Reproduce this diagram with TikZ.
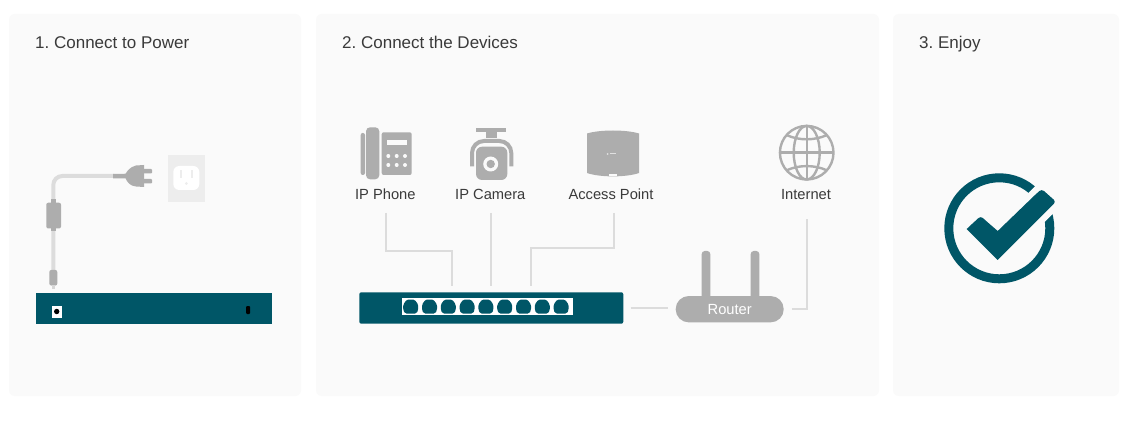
\documentclass[tikz,border=0pt]{standalone}
\usepackage{fontspec}
\setmainfont{Liberation Sans}
\usetikzlibrary{positioning}
\definecolor{tealdark}{HTML}{005667}
\definecolor{panelbg}{HTML}{FAFAFA}
\definecolor{icongray}{HTML}{ADADAD}
\definecolor{wiregray}{HTML}{DCDCDC}
\definecolor{textgray}{HTML}{3A3A3A}
\frenchspacing
\begin{document}
\begin{tikzpicture}[
        x=1pt, y=-1pt,
        panel/.style={rectangle, fill=panelbg, rounded corners=6pt, inner sep=0pt},
        title/.style={anchor=base west, inner sep=0pt, text=textgray, font=\fontsize{17}{20}\selectfont},
        devlabel/.style={anchor=base, inner sep=0pt, text=textgray, font=\fontsize{14.7}{17}\selectfont},
        switchbox/.style={rectangle, fill=tealdark, inner sep=0pt},
        wire/.style={draw=wiregray, line width=2pt},
        cord/.style={draw=wiregray, line width=4pt},
        icon/.style={fill=icongray, draw=none},
    ]
    \useasboundingbox (0,0) rectangle (1137,430);
    \fill[white] (0,0) rectangle (1137,430);

    % Panels
    \node[panel, minimum width=292pt, minimum height=382pt] (power_panel) at (155,205) {};
    \node[panel, minimum width=563pt, minimum height=382pt] (devices_panel) at (597.5,205) {};
    \node[panel, minimum width=226pt, minimum height=382pt] (enjoy_panel) at (1006,205) {};
    \node[title] (power_title) at (35,48.3) {1. Connect to Power};
    \node[title] (devices_title) at (342,48.3) {2. Connect the Devices};
    \node[title] (enjoy_title) at (919,48.3) {3. Enjoy};

    % Power side
    \node[switchbox, minimum width=236.6pt, minimum height=30.7pt] (back_switch) at (154,308.7) {};
    \fill[white] (51.7,306) rectangle (62,317.7);
    \fill[black] (56.7,311.5) circle[radius=2.7pt];
    \fill[black, rounded corners=1pt] (246,306) rectangle (250,314);

    \coordinate (cord_end) at (53.3,270);
    \coordinate (cord_start) at (114,176);
    \draw[cord, rounded corners=9pt] (cord_end) |- (cord_start);
    \fill[icon, rounded corners=2pt] (46.3,202.7) rectangle (61,228.5);
    \fill[icon] (50.7,199.3) rectangle (56,231);
    \fill[icon, rounded corners=2pt] (49.3,270) rectangle (57.3,285.5);
    \fill[icongray!50] (52,285) rectangle (54.5,288.5);

    % Plug
    \fill[icon] (113,174) -- (127,173.7) -- (127,178.5) -- (113,178.3) -- cycle;
    \fill[icon] (144,165) -- (136,165.5) .. controls (130,167) and (127,171) .. (125.5,174) -- (125.5,178) .. controls (127,182) and (130,186) .. (136,186.5) -- (144,187) -- cycle;
    \fill[icon, rounded corners=0.8pt] (143,169) rectangle (152,173.3);
    \fill[icon, rounded corners=0.8pt] (143,179) rectangle (152,183.3);

    % Outlet
    \fill[black!7] (168,154.7) rectangle (204.7,202);
    \fill[white, rounded corners=6pt] (173.3,166) rectangle (199.3,190);
    \fill[black!7] (180,170) rectangle (182,178.3);
    \fill[black!7] (190.7,170) rectangle (192.7,178.3);
    \fill[black!7] (186.3,183.5) circle[radius=1.5pt];

    % Devices: phone
    \fill[icon, rounded corners=2pt] (360.7,133) rectangle (365,175);
    \fill[icon, rounded corners=4pt] (366,127.3) rectangle (379.3,179.3);
    \fill[icon, rounded corners=2pt] (381.7,132.3) rectangle (411.7,175);
    \fill[panelbg] (387.3,140) rectangle (406.7,145.3);
    \foreach \kx in {388.3,396.7,405}
        \foreach \ky in {156,165}
            \fill[panelbg] (\kx,\ky) circle[radius=2pt];
    \node[devlabel] (phone_label) at (385.3,199.5) {IP Phone};

    % Devices: camera
    \fill[icon] (475.7,127.7) rectangle (506.3,131.7);
    \fill[icon] (485.7,131) rectangle (496.7,138.3);
    \draw[icongray, line width=4pt, rounded corners=12pt] (472,166.5) -- (472,141) -- (511.3,141) -- (511.3,166.5);
    \fill[icon, rounded corners=6pt] (476,146.7) rectangle (507.3,180);
    \fill[panelbg] (490.7,164) circle[radius=7.5pt];
    \fill[icon] (490.7,164) circle[radius=4.2pt];
    \node[devlabel] (camera_label) at (490.3,199.5) {IP Camera};

    % Devices: access point
    \fill[icon] (587,133.5) .. controls (600,129.5) and (626,129.5) .. (639,133.5) -- (639,173) .. controls (626,177.5) and (600,177.5) .. (587,173) -- cycle;
    \fill[panelbg] (608.5,174.5) rectangle (617,176.5);
    \fill[black!12] (607.5,154) circle[radius=1pt];
    \fill[black!12] (609.5,153.5) rectangle (616,154.5);
    \node[devlabel] (ap_label) at (611,199.5) {Access Point};

    % Devices: globe
    \begin{scope}[shift={(806.7,152.7)}, icongray, line width=2.4pt]
        \draw (0,0) circle[radius=26.8pt];
        \draw (0,0) ellipse[x radius=13pt, y radius=26.8pt];
        \draw (-26.8,0) -- (26.8,0);
        \draw (0,-26.8) -- (0,26.8);
        \draw (-20,-17.6) .. controls (-8,-12) and (8,-12) .. (20,-17.6);
        \draw (-20,17.6) .. controls (-8,12) and (8,12) .. (20,17.6);
    \end{scope}
    \node[devlabel] (internet_label) at (806,199.5) {Internet};

    % Switch
    \node[switchbox, rounded corners=2pt, minimum width=264pt, minimum height=31.4pt] (switch) at (491.3,308) {};
    \fill[white] (402.3,298.3) rectangle (573.3,315);
    \foreach \p in {0,...,8}
        \fill[tealdark, rounded corners=1.5pt, xshift=18.8*\p] (404.9,313.5) -- (403.2,310) -- (403.2,304.5) -- (406.9,299.5) -- (414.5,299.5) -- (418.2,304.5) -- (418.2,310) -- (416.5,313.5) -- cycle;

    % Router
    \fill[icon, rounded corners=3pt] (701.7,251) rectangle (710.3,300);
    \fill[icon, rounded corners=3pt] (750.7,251) rectangle (759.3,300);
    \node[rectangle, fill=icongray, rounded corners=13pt, minimum width=108pt, minimum height=26.3pt, inner sep=0pt, text=white, font=\fontsize{14.7}{17}\selectfont] (router) at (729.7,309.2) {Router};

    % Conexions
    \coordinate (phone_top) at (386,213);
    \coordinate (phone_mid) at (452.3,250.7);
    \coordinate (phone_port) at (452.3,286);
    \coordinate (camera_top) at (491.3,213);
    \coordinate (camera_port) at (491.3,286);
    \coordinate (ap_top) at (613.7,213);
    \coordinate (ap_mid) at (531,247.7);
    \coordinate (ap_port) at (531,286);
    \coordinate (internet_top) at (807,219);
    \draw[wire] (phone_top) |- (phone_mid) -- (phone_port);
    \draw[wire] (camera_top) -- (camera_port);
    \draw[wire] (ap_top) |- (ap_mid) -- (ap_port);
    \draw[wire, shorten <=7pt, shorten >=8pt] (switch.east) -- (router.west |- switch.east);
    \draw[wire, shorten <=8pt] (router.east) -| (internet_top);

    % Check mark
    \draw[tealdark, line width=9pt] (999.3,228.3) circle[radius=50.5pt];
    \draw[panelbg, line width=32pt] (1005,239) -- (1065,179);
    \fill[tealdark] (966.7,229) -- (972,224) [rounded corners=3pt] -- (980.7,216) -- (985,220) [sharp corners] -- (997.7,231) -- (1035,195) [rounded corners=3pt] -- (1041.7,189) -- (1056,201.7) [sharp corners] -- (997.7,260) -- cycle;
\end{tikzpicture}
\end{document}
